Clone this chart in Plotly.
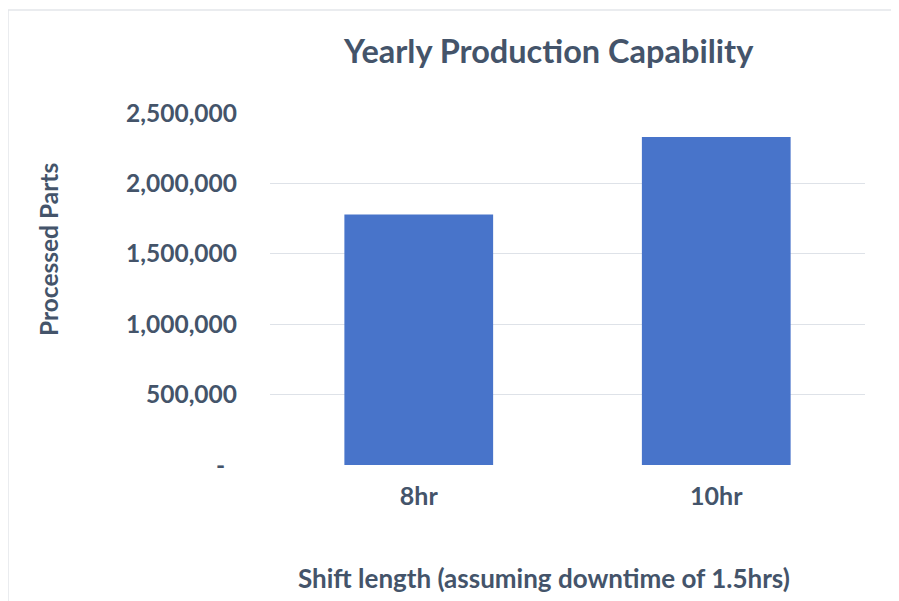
import plotly.graph_objects as go

categories = ["8hr", "10hr"]
values = [1780000, 2330000]
tick_vals = [0, 500000, 1000000, 1500000, 2000000, 2500000]
tick_text = ["-\u00a0\u00a0", "500,000", "1,000,000", "1,500,000", "2,000,000", "2,500,000"]

TEXT = "#44546A"
FONT = "Lato"

fig = go.Figure()
fig.add_trace(go.Bar(
    x=categories, y=values,
    marker=dict(color="#4874CA", line=dict(width=0)),
    hoverinfo="x+y",
))

OFF = 8  # page body margin
W, H = 899, 601
# window pixel positions of plot area
PL, PR, PT, PB = 270, 865, 113, 465
L = PL - OFF
R = W - (PR - OFF)
T = PT - OFF
B = H - (PB - OFF)
pw = PR - PL
ph = PB - PT

def px_x(p):
    return (p - PL) / pw

def px_y(p):
    return (PB - p) / ph

fig.update_layout(
    width=W, height=H,
    margin=dict(l=L, r=R, t=T, b=B),
    paper_bgcolor="white", plot_bgcolor="white",
    bargap=0.5,
    showlegend=False,
    font=dict(family=FONT, color=TEXT),
    xaxis=dict(
        type="category",
        showgrid=False, zeroline=False, showline=False,
        ticks="", ticklabelstandoff=14,
        tickfont=dict(family=FONT, size=25, color=TEXT, weight="bold"),
    ),
    yaxis=dict(
        range=[0, 2500000],
        tickvals=tick_vals, ticktext=tick_text,
        showgrid=True, gridcolor="#DEE2E8", gridwidth=1.3,
        zeroline=False, showline=False, ticks="",
        ticklabelstandoff=32,
        tickfont=dict(family=FONT, size=24.5, color=TEXT, weight="bold"),
    ),
    annotations=[
        dict(text="Yearly Production Capability", xref="paper", yref="paper",
             x=px_x(548), y=px_y(50), showarrow=False, xanchor="center", yanchor="middle",
             font=dict(family=FONT, size=32.5, color=TEXT, weight="bold")),
        dict(text="Shift length (assuming downtime of 1.5hrs)", xref="paper", yref="paper",
             x=px_x(544), y=px_y(578), showarrow=False, xanchor="center", yanchor="middle",
             font=dict(family=FONT, size=26, color=TEXT, weight="bold")),
        dict(text="Processed Parts", xref="paper", yref="paper", textangle=-90,
             x=px_x(48), y=px_y(250), showarrow=False, xanchor="center", yanchor="middle",
             font=dict(family=FONT, size=24.5, color=TEXT, weight="bold")),
    ],
    shapes=[
        dict(type="line", xref="paper", yref="paper",
             x0=px_x(8), x1=px_x(898), y0=px_y(10), y1=px_y(10),
             line=dict(color="#E3E6EA", width=1.5)),
        dict(type="line", xref="paper", yref="paper",
             x0=px_x(8), x1=px_x(8), y0=px_y(10), y1=px_y(605),
             line=dict(color="#E3E6EA", width=1.5)),
    ],
)

fig.write_html("out.html")
